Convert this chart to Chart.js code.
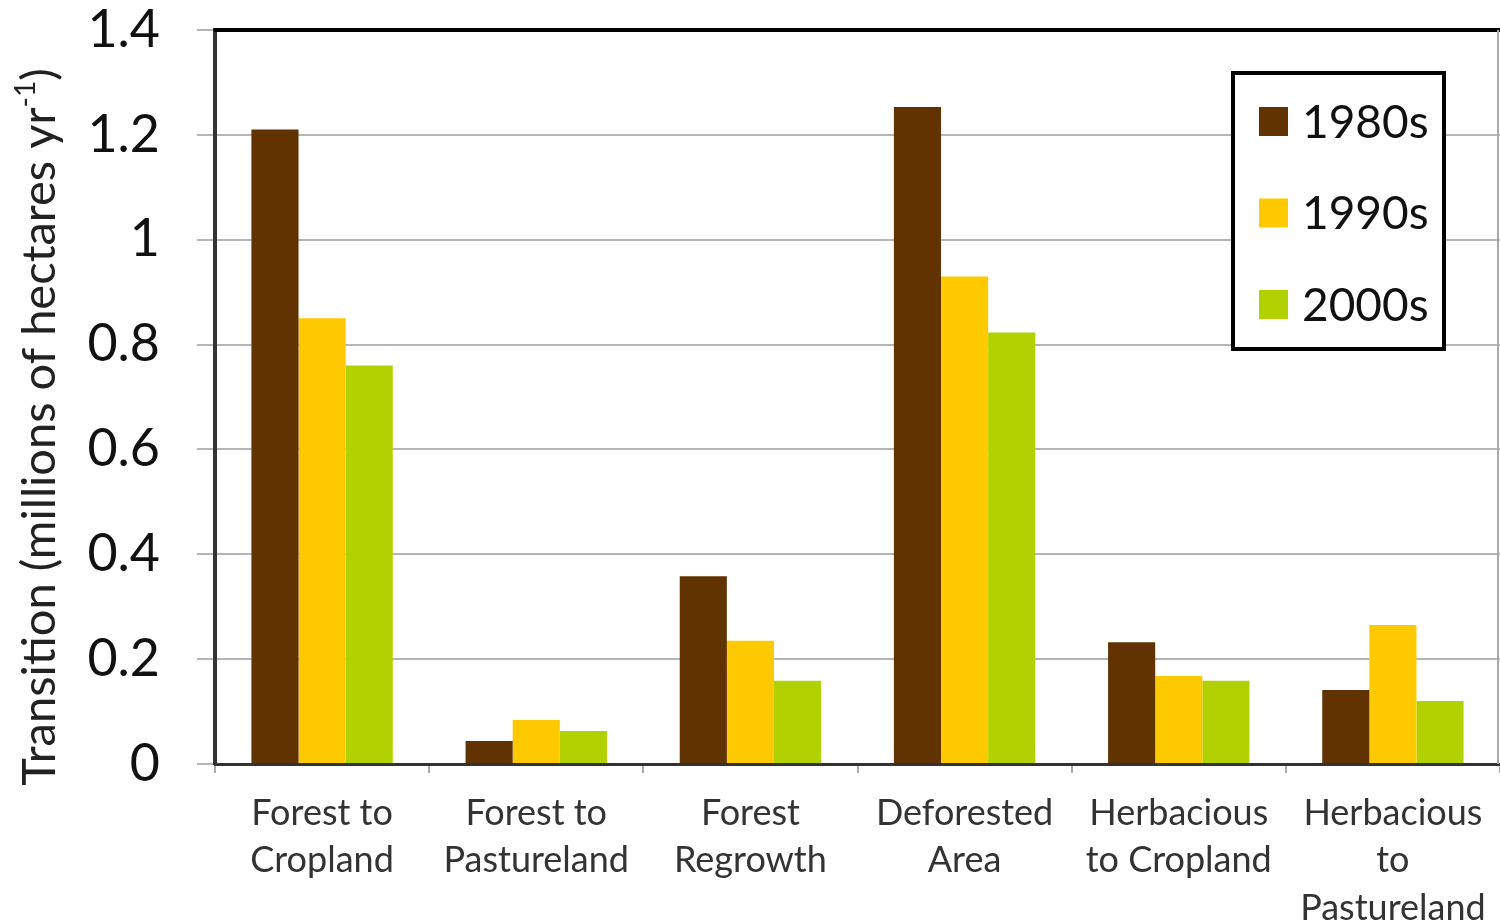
<!DOCTYPE html>
<html>
<head>
<meta charset="utf-8">
<script src="https://cdn.jsdelivr.net/npm/chart.js@4.4.1/dist/chart.umd.min.js"></script>
<style>
  html, body { margin: 0; padding: 0; background: #fff; }
  #wrap { width: 1500px; height: 922px; position: relative; }
</style>
</head>
<body>
<div id="wrap"><canvas id="landChart"></canvas></div>
<script>
// Land-use transitions by decade
const categories = [
    ['Forest to', 'Cropland'],
    ['Forest to', 'Pastureland'],
    ['Forest', 'Regrowth'],
    ['Deforested', 'Area'],
    ['Herbacious', 'to Cropland'],
    ['Herbacious', 'to', 'Pastureland']
];
const decades = ['1980s', '1990s', '2000s'];
const values1980s = [1.21, 0.044, 0.358, 1.253, 0.232, 0.141];
const values1990s = [0.85, 0.084, 0.235, 0.930, 0.168, 0.265];
const values2000s = [0.76, 0.063, 0.159, 0.823, 0.159, 0.120];
const barColors = ['#603300', '#ffc900', '#b1d200'];
const yTicks = [0, 0.2, 0.4, 0.6, 0.8, 1, 1.2, 1.4];

const fontFamily = 'Lato, "Open Sans", sans-serif';

// top/right frame, y title with superscript, boxed legend
const framePlugin = {
    id: 'frame',
    afterDraw(chart) {
        const { ctx, chartArea } = chart;
        ctx.save();
        // top border
        ctx.strokeStyle = '#000';
        ctx.lineWidth = 4;
        ctx.beginPath();
        ctx.moveTo(chartArea.left - 1, chartArea.top);
        ctx.lineTo(chartArea.right, chartArea.top);
        ctx.stroke();
        // right border
        ctx.strokeStyle = '#aaa';
        ctx.lineWidth = 2;
        ctx.beginPath();
        ctx.moveTo(chartArea.right - 2, chartArea.top);
        ctx.lineTo(chartArea.right - 2, chartArea.bottom);
        ctx.stroke();

        // y axis title
        ctx.translate(40, 427);
        ctx.rotate(-Math.PI / 2);
        ctx.fillStyle = '#222';
        ctx.textBaseline = 'middle';
        const main = 'Transition (millions of hectares yr';
        ctx.font = '47px ' + fontFamily;
        const w1 = ctx.measureText(main).width;
        ctx.font = '28px ' + fontFamily;
        const w2 = ctx.measureText('-1').width;
        ctx.font = '47px ' + fontFamily;
        const w3 = ctx.measureText(')').width;
        let x = -(w1 + w2 + w3) / 2;
        ctx.textAlign = 'left';
        ctx.fillText(main, x, 0);
        x += w1;
        ctx.font = '28px ' + fontFamily;
        ctx.fillText('-1', x, -14);
        x += w2;
        ctx.font = '47px ' + fontFamily;
        ctx.fillText(')', x, 0);
        ctx.setTransform(1, 0, 0, 1, 0, 0);

        // legend box
        const bx = 1233, by = 73, bw = 211, bh = 276;
        ctx.fillStyle = '#fff';
        ctx.fillRect(bx, by, bw, bh);
        ctx.strokeStyle = '#000';
        ctx.lineWidth = 4;
        ctx.strokeRect(bx, by, bw, bh);
        ctx.font = '46px ' + fontFamily;
        ctx.textAlign = 'left';
        ctx.textBaseline = 'middle';
        chart.data.datasets.forEach((ds, i) => {
            const cy = 121 + i * 91.5;
            ctx.fillStyle = ds.backgroundColor;
            ctx.fillRect(1259, cy - 14, 29, 29);
            ctx.fillStyle = '#111';
            ctx.fillText(ds.label, 1302, cy + 2);
        });
        ctx.restore();
    }
};

new Chart(document.getElementById('landChart'), {
    type: 'bar',
    data: {
        labels: categories,
        datasets: [
            { label: decades[0], data: values1980s, backgroundColor: barColors[0] },
            { label: decades[1], data: values1990s, backgroundColor: barColors[1] },
            { label: decades[2], data: values2000s, backgroundColor: barColors[2] }
        ]
    },
    options: {
        responsive: true,
        maintainAspectRatio: false,
        animation: false,
        layout: { padding: { top: 30, right: 0, left: 0, bottom: 0 } },
        datasets: { bar: { categoryPercentage: 0.66, barPercentage: 1.0 } },
        plugins: {
            legend: { display: false },
            tooltip: { enabled: false }
        },
        scales: {
            x: {
                grid: {
                    offset: true,
                    drawOnChartArea: false,
                    drawTicks: true,
                    tickLength: 9,
                    color: '#aaa',
                    lineWidth: 2
                },
                border: { display: true, color: '#333', width: 3 },
                ticks: {
                    color: '#333',
                    padding: 16,
                    maxRotation: 0,
                    autoSkip: false,
                    font: { family: fontFamily, size: 36, lineHeight: 1.33 }
                },
                afterFit(scale) {
                    scale.height = 158;
                    scale.paddingLeft = 0;
                    scale.paddingRight = 0;
                }
            },
            y: {
                min: 0,
                max: 1.4,
                afterBuildTicks(scale) {
                    scale.ticks = yTicks.map(v => ({ value: v }));
                },
                grid: {
                    color: '#b5b5b5',
                    lineWidth: 2,
                    drawTicks: true,
                    tickLength: 18
                },
                border: { display: true, color: '#333', width: 4 },
                ticks: {
                    color: '#111',
                    padding: 37,
                    font: { family: fontFamily, size: 52, lineHeight: 1.0 },
                    callback: v => String(+v.toFixed(1))
                },
                afterFit(scale) {
                    scale.width = 215;
                    scale.paddingTop = 0;
                    scale.paddingBottom = 0;
                }
            }
        }
    },
    plugins: [framePlugin]
});
</script>
</body>
</html>
